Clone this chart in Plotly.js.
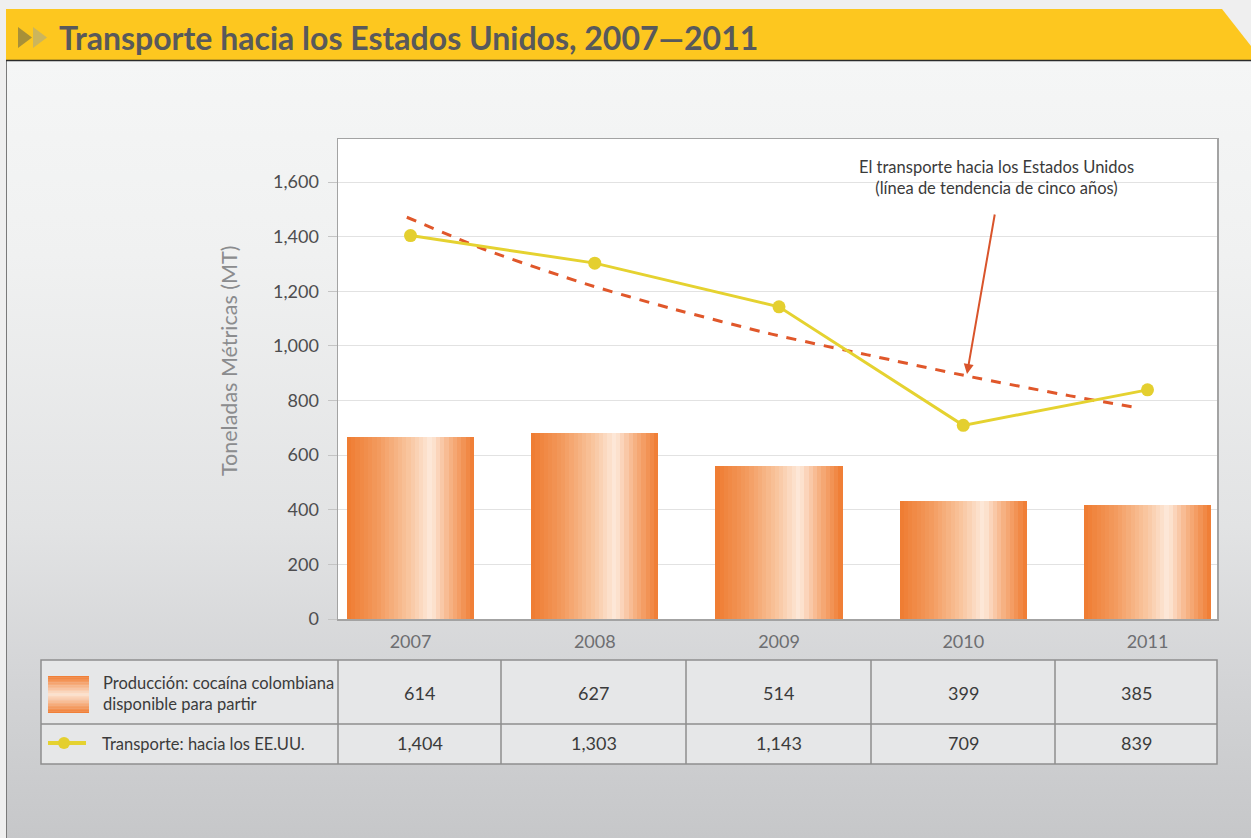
<!DOCTYPE html>
<html>
<head>
<meta charset="utf-8">
<script src="https://cdn.plot.ly/plotly-3.0.1.min.js"></script>
<style>
  html, body { margin:0; padding:0; width:1251px; height:838px; overflow:hidden; background:#efefef; }
  #panel { position:absolute; left:6px; top:60px; width:1245px; height:778px;
           border-left:1px solid #7a7a7a;
           background:linear-gradient(to bottom, #f5f6f6 0%, #f0f1f1 25%, #e2e3e4 60%, #d3d4d6 80%, #c6c7c9 100%); }
  #chart { position:absolute; left:0; top:0; width:1251px; height:838px; }
</style>
</head>
<body>
<div id="panel"></div>
<div id="chart"></div>
<script>
// ---------------- data ----------------
const years = [2007, 2008, 2009, 2010, 2011];
const yearLabels = ['2007', '2008', '2009', '2010', '2011'];
const productionBars = [666, 681, 560, 432, 417];           // bar heights as drawn
const productionTable = ['614', '627', '514', '399', '385']; // table row values
const shipment = [1404, 1303, 1143, 709, 839];
const shipmentTable = ['1,404', '1,303', '1,143', '709', '839'];
// five-year trend line
const trendYears = [2006.98, 2007.41, 2007.96, 2008.41, 2008.96, 2009.48, 2010.04, 2010.58, 2010.94];
const trendValues = [1471, 1351, 1225, 1138, 1043, 967, 887, 817, 774];
const yTicks = [0, 200, 400, 600, 800, 1000, 1200, 1400, 1600];
const yTickLabels = ['0', '200', '400', '600', '800', '1,000', '1,200', '1,400', '1,600'];
const seriesNames = ['Producción: cocaína colombiana<br>disponible para partir', 'Transporte: hacia los EE.UU.'];
const chartTitle = 'Transporte hacia los Estados Unidos, 2007—2011';
const yTitle = 'Toneladas Métricas (MT)';
const noteText = 'El transporte hacia los Estados Unidos<br>(línea de tendencia de cinco años)';

// ---------------- geometry helpers ----------------
const W = 1251, H = 838;
const L = 338, R = 1217, T = 139, B = 619;
const px = x => (x - L) / (R - L);
const py = y => (B - y) / (B - T);
const FONT = 'Lato, "Open Sans", sans-serif';

function hex2rgb(h) { return [parseInt(h.slice(1,3),16), parseInt(h.slice(3,5),16), parseInt(h.slice(5,7),16)]; }
function grad(stops, t) {
  for (let i = 0; i < stops.length - 1; i++) {
    const [t0, c0] = stops[i], [t1, c1] = stops[i+1];
    if (t >= t0 && t <= t1) {
      const f = (t - t0) / (t1 - t0), a = hex2rgb(c0), b = hex2rgb(c1);
      return 'rgb(' + a.map((v, k) => Math.round(v + (b[k] - v) * f)).join(',') + ')';
    }
  }
  return stops[stops.length - 1][1];
}
const barStops = [[0, '#ef7b30'], [0.25, '#f39b5f'], [0.5, '#f9c8a3'], [0.66, '#fde9da'], [0.8, '#f7b68a'], [1, '#ef7a2f']];

// ---------------- traces ----------------
const traces = [];
const BW = 0.69, N = 30;
for (let k = 0; k < N; k++) {
  const t = (k + 0.5) / N;
  traces.push({
    type: 'bar', x: years, y: productionBars,
    offset: -BW / 2 + k * BW / N,
    width: k === N - 1 ? BW / N : BW / N + 0.004,
    marker: { color: grad(barStops, t), line: { width: 0 } },
    hoverinfo: 'skip', showlegend: false
  });
}
traces.push({
  type: 'scatter', mode: 'lines', x: trendYears, y: trendValues,
  line: { color: '#e0572a', width: 3, dash: '10px,9px', shape: 'spline', smoothing: 0.6 },
  hoverinfo: 'skip', showlegend: false
});
traces.push({
  type: 'scatter', mode: 'lines+markers', x: years, y: shipment,
  line: { color: '#e5d230', width: 3 },
  marker: { color: '#e4cf2f', size: 13 },
  showlegend: false
});

// ---------------- shapes ----------------
const shapes = [];
const P = (x, y) => px(x).toFixed(5) + ',' + py(y).toFixed(5);
// yellow header
shapes.push({ type: 'path', xref: 'paper', yref: 'paper', layer: 'below',
  path: 'M' + P(6, 9) + ' L' + P(1222, 9) + ' L' + P(1251, 46) + ' L' + P(1251, 60) + ' L' + P(6, 60) + ' Z',
  fillcolor: '#fdc71f', line: { width: 0 } });
shapes.push({ type: 'line', xref: 'paper', yref: 'paper', x0: px(6), x1: px(1251), y0: py(60.5), y1: py(60.5),
  line: { color: '#2b2b2b', width: 1.5 } });
// double arrow glyph
shapes.push({ type: 'path', xref: 'paper', yref: 'paper',
  path: 'M' + P(18, 27) + ' L' + P(32, 37.5) + ' L' + P(18, 48) + ' Z', fillcolor: '#a89038', line: { width: 0 } });
shapes.push({ type: 'path', xref: 'paper', yref: 'paper',
  path: 'M' + P(33, 27) + ' L' + P(47, 37.5) + ' L' + P(33, 48) + ' Z', fillcolor: '#ccb55c', line: { width: 0 } });

// table
const tX = [41, 338, 501, 686, 871, 1055, 1217];
const tY = [660, 724, 764];
shapes.push({ type: 'rect', xref: 'paper', yref: 'paper', x0: px(tX[0]), x1: px(tX[6]), y0: py(tY[0]), y1: py(tY[2]),
  fillcolor: '#e6e7e8', line: { color: '#8e8e8e', width: 1.5 } });
shapes.push({ type: 'line', xref: 'paper', yref: 'paper', x0: px(tX[0]), x1: px(tX[6]), y0: py(tY[1]), y1: py(tY[1]),
  line: { color: '#8e8e8e', width: 1.5 } });
for (let i = 1; i < 6; i++) {
  shapes.push({ type: 'line', xref: 'paper', yref: 'paper', x0: px(tX[i]), x1: px(tX[i]), y0: py(tY[0]), y1: py(tY[2]),
    line: { color: '#8e8e8e', width: 1.5 } });
}
// legend icon: vertical gradient box
const iconStops = [[0, '#f07b30'], [0.5, '#fde4d2'], [1, '#f07b30']];
const iy0 = 676, iy1 = 713, NS = 24;
for (let k = 0; k < NS; k++) {
  const a = iy0 + (iy1 - iy0) * k / NS, b = iy0 + (iy1 - iy0) * (k + 1) / NS + 0.3;
  shapes.push({ type: 'rect', xref: 'paper', yref: 'paper', x0: px(48), x1: px(89), y0: py(a), y1: py(Math.min(b, iy1)),
    fillcolor: grad(iconStops, (k + 0.5) / NS), line: { width: 0 } });
}
// legend icon: line with marker
shapes.push({ type: 'line', xref: 'paper', yref: 'paper', x0: px(48), x1: px(86), y0: py(743), y1: py(743),
  line: { color: '#e5d230', width: 4 } });
shapes.push({ type: 'circle', xref: 'paper', yref: 'paper', x0: px(58), x1: px(70), y0: py(737), y1: py(749),
  fillcolor: '#e4cf2f', line: { width: 0 } });

// ---------------- annotations ----------------
const ann = [];
ann.push({ xref: 'paper', yref: 'paper', x: px(57), y: py(37), xanchor: 'left', yanchor: 'middle', showarrow: false,
  text: '<b>' + chartTitle + '</b>', font: { family: FONT, size: 32, color: '#58595b' } });
ann.push({ xref: 'paper', yref: 'paper', x: px(229), y: py(361), xanchor: 'center', yanchor: 'middle', showarrow: false,
  textangle: -90, text: yTitle, font: { family: FONT, size: 21.5, color: '#8b8c8e' } });
ann.push({ xref: 'paper', yref: 'paper', x: px(996), y: py(177), xanchor: 'center', yanchor: 'middle', showarrow: false,
  text: noteText, align: 'center', font: { family: FONT, size: 16.5, color: '#3a3a3a' } });
ann.push({ xref: 'paper', yref: 'paper', axref: 'paper', ayref: 'paper',
  x: px(967), y: py(374), ax: px(995), ay: py(213), showarrow: true, arrowhead: 2, arrowsize: 1, arrowwidth: 2,
  arrowcolor: '#d9542b', text: '' });
// table text
for (let i = 0; i < 5; i++) {
  const cx = (tX[i + 1] + tX[i + 2]) / 2;
  ann.push({ xref: 'paper', yref: 'paper', x: px(cx), y: py(693), xanchor: 'center', yanchor: 'middle', showarrow: false,
    text: productionTable[i], font: { family: FONT, size: 18, color: '#3b3b3b' } });
  ann.push({ xref: 'paper', yref: 'paper', x: px(cx), y: py(743), xanchor: 'center', yanchor: 'middle', showarrow: false,
    text: shipmentTable[i], font: { family: FONT, size: 18, color: '#3b3b3b' } });
}
ann.push({ xref: 'paper', yref: 'paper', x: px(101), y: py(693), xanchor: 'left', yanchor: 'middle', showarrow: false,
  align: 'left', text: seriesNames[0], font: { family: FONT, size: 16.5, color: '#3b3b3b' } });
ann.push({ xref: 'paper', yref: 'paper', x: px(100), y: py(744), xanchor: 'left', yanchor: 'middle', showarrow: false,
  align: 'left', text: seriesNames[1], font: { family: FONT, size: 16.5, color: '#3b3b3b' } });

// ---------------- layout ----------------
const layout = {
  width: W, height: H,
  margin: { l: L, r: W - R, t: T, b: H - B, pad: 0 },
  paper_bgcolor: 'rgba(0,0,0,0)', plot_bgcolor: '#ffffff',
  barmode: 'overlay', bargap: 0,
  showlegend: false,
  xaxis: {
    range: [2006.6065, 2011.3772], tickvals: years, ticktext: yearLabels,
    showgrid: false, zeroline: false, showline: true, mirror: true, linecolor: '#a3a3a3', linewidth: 1.5,
    ticks: '', ticklabelstandoff: 6,
    tickfont: { family: FONT, size: 18, color: '#6d6e71' }, fixedrange: true
  },
  yaxis: {
    range: [0, 1757.5], tickvals: yTicks, ticktext: yTickLabels,
    showgrid: true, gridcolor: '#e2e2e2', gridwidth: 1, zeroline: false,
    showline: true, mirror: true, linecolor: '#a3a3a3', linewidth: 1.5,
    ticks: 'outside', ticklen: 9, tickwidth: 1, tickcolor: '#c4c4c4', ticklabelstandoff: 5,
    tickfont: { family: FONT, size: 18, color: '#4d4d4f' }, fixedrange: true
  },
  shapes: shapes,
  annotations: ann
};

Plotly.newPlot('chart', traces, layout, { displayModeBar: false, staticPlot: true });
</script>
</body>
</html>
